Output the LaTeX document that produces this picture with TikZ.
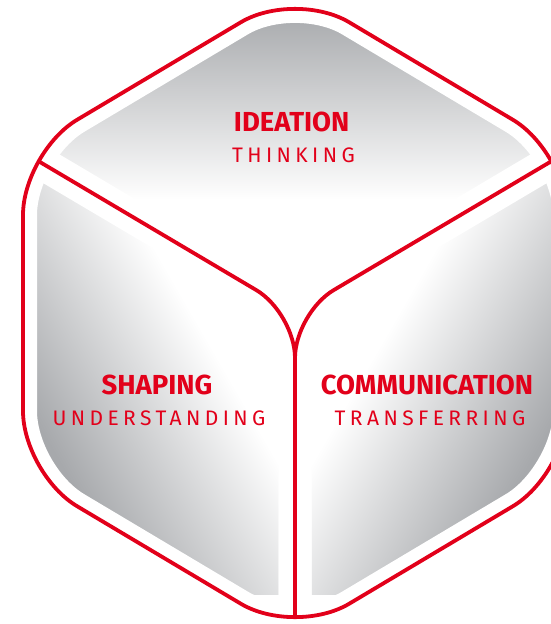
\documentclass[tikz,border=0pt]{standalone}
\usepackage{fontspec}
\setmainfont{Fira Sans}
\newfontfamily\subfont[LetterSpace=21]{Fira Sans}
\definecolor{cubered}{HTML}{E2001A}
\definecolor{facegray}{HTML}{A7A9AC}
\pgfdeclarehorizontalshading{facegrad}{100bp}{color(0bp)=(facegray); color(38bp)=(facegray); color(57bp)=(white); color(100bp)=(white)}
\tikzset{
  redline/.style={draw=cubered, line width=3.8pt},
  outergap/.style={draw=white, line width=28pt},
  innergap/.style={draw=white, line width=33pt},
  facetitle/.style={font=\fontsize{27.5}{30}\selectfont\bfseries, text=cubered, inner sep=0pt, anchor=base},
  facesub/.style={font=\subfont\fontsize{21}{24}\selectfont, text=cubered, inner sep=0pt, anchor=base},
}
\begin{document}
\begin{tikzpicture}[x=1pt,y=-1pt]
\useasboundingbox (0,0) rectangle (551,624);
% hexagon corners
\coordinate (T) at (295,-10);
\coordinate (UL) at (23,152);
\coordinate (UR) at (567,152);
\coordinate (LL) at (23,474);
\coordinate (LR) at (567,474);
\coordinate (B) at (295,636);
\coordinate (C) at (295,313);
\coordinate (M) at (23,313);
\def\outline{[rounded corners=63pt] (M) -- (UL) -- (T) -- (UR) -- (LR) -- (B) -- (LL) -- cycle}
\begin{scope}
  \clip \outline;
  % top face
  \begin{scope}
    \clip (T) -- (UR) -- (C) -- (UL) -- cycle;
    \shade[shading=facegrad, shading angle=270] (45,-120) rectangle (545,380);
  \end{scope}
  % left face
  \begin{scope}
    \clip (UL) -- (C) -- (B) -- (LL) -- cycle;
    \clip (0,0) rectangle (295,594);
    \shade[shading=facegrad, shading angle=30] (-100,130) rectangle (400,630);
  \end{scope}
  % right face
  \begin{scope}
    \clip (UR) -- (LR) -- (B) -- (C) -- cycle;
    \clip (295,0) rectangle (600,594);
    \shade[shading=facegrad, shading angle=150] (190,130) rectangle (690,630);
  \end{scope}
  % white gaps
  \path[innergap, rounded corners=45pt] (UL) -- (C) -- (B);
  \path[innergap, rounded corners=45pt] (UR) -- (C) -- (B);
  \path[outergap] \outline;
  % red inner lines
  \path[redline, rounded corners=45pt] (UL) -- (C) -- (B);
  \path[redline, rounded corners=45pt] (UR) -- (C) -- (B);
\end{scope}
\path[redline] \outline;
% texts
\node[facetitle] (ideation) at (291.7,131) {IDEATION};
\node[facesub] (thinking) at (293.5,162) {THINKING};
\node[facetitle] (shaping) at (157,394) {SHAPING};
\node[facesub] (understanding) at (159,425) {UNDERSTANDING};
\node[facetitle] (communication) at (427,394) {COMMUNICATION};
\node[facesub] (transferring) at (430,425) {TRANSFERRING};
\end{tikzpicture}
\end{document}
